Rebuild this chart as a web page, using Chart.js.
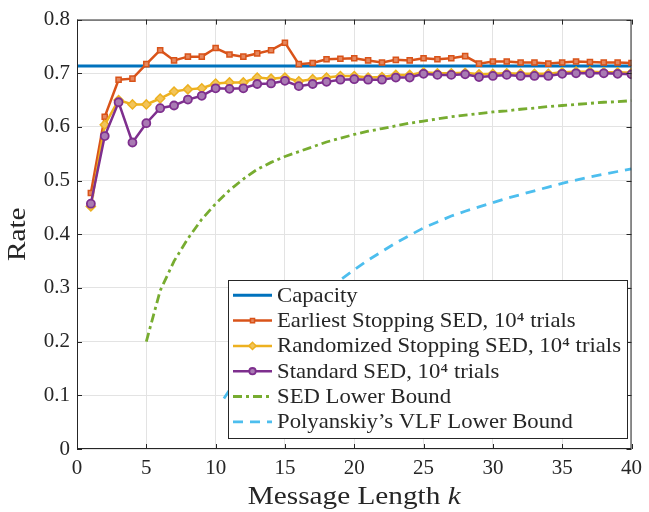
<!DOCTYPE html>
<html>
<head>
<meta charset="utf-8">
<script src="https://cdn.jsdelivr.net/npm/chart.js@4.4.1/dist/chart.umd.min.js"></script>
<style>
    html, body { margin: 0; padding: 0; background: #fff; }
</style>
</head>
<body>
<canvas id="rateChart" width="649" height="512"></canvas>
<script>
// Message lengths k = 1..40
const kValues = [1, 2, 3, 4, 5, 6, 7, 8, 9, 10, 11, 12, 13, 14, 15, 16, 17, 18, 19, 20,
                 21, 22, 23, 24, 25, 26, 27, 28, 29, 30, 31, 32, 33, 34, 35, 36, 37, 38, 39, 40];

const capacityX = [0, 40];
const capacityY = [0.7136, 0.7136];

const earliestStopping = [0.477, 0.619, 0.688, 0.690, 0.717, 0.743, 0.724, 0.731, 0.731, 0.747,
                          0.735, 0.731, 0.737, 0.743, 0.757, 0.717, 0.719, 0.726, 0.727, 0.728,
                          0.724, 0.720, 0.725, 0.724, 0.728, 0.726, 0.728, 0.732, 0.718, 0.722,
                          0.722, 0.720, 0.720, 0.718, 0.720, 0.722, 0.721, 0.720, 0.720, 0.719];

const randomizedStopping = [0.452, 0.604, 0.650, 0.642, 0.642, 0.653, 0.666, 0.670, 0.672, 0.681,
                            0.683, 0.683, 0.692, 0.690, 0.692, 0.685, 0.689, 0.692, 0.695, 0.695,
                            0.692, 0.693, 0.697, 0.697, 0.702, 0.700, 0.700, 0.701, 0.698, 0.699,
                            0.700, 0.699, 0.699, 0.699, 0.702, 0.703, 0.703, 0.702, 0.702, 0.701];

const standardSED = [0.457, 0.583, 0.646, 0.571, 0.607, 0.635, 0.640, 0.651, 0.658, 0.672,
                     0.671, 0.672, 0.680, 0.681, 0.686, 0.676, 0.680, 0.684, 0.688, 0.689,
                     0.688, 0.688, 0.692, 0.692, 0.699, 0.697, 0.697, 0.698, 0.693, 0.695,
                     0.697, 0.695, 0.695, 0.695, 0.699, 0.700, 0.700, 0.700, 0.699, 0.698];

// SED lower bound, k = 5..40
const sedBoundK = [5, 6, 7, 8, 9, 10, 11, 12, 13, 14, 15, 16, 17, 18, 19, 20, 21, 22,
                   23, 24, 25, 26, 27, 28, 29, 30, 31, 32, 33, 34, 35, 36, 37, 38, 39, 40];
const sedBound = [0.200, 0.295, 0.350, 0.392, 0.428, 0.457, 0.482, 0.503, 0.521, 0.534,
                  0.545, 0.554, 0.563, 0.572, 0.579, 0.586, 0.592, 0.597, 0.602, 0.607,
                  0.611, 0.615, 0.619, 0.622, 0.625, 0.628, 0.630, 0.633, 0.635, 0.638,
                  0.640, 0.642, 0.644, 0.646, 0.647, 0.649];

// Polyanskiy's VLF lower bound
const vlfBoundK = [10.6, 11, 12, 13, 14, 15, 16, 17, 18, 19, 20, 21, 22, 23, 24, 25,
                   26, 27, 28, 29, 30, 31, 32, 33, 34, 35, 36, 37, 38, 39, 40];
const vlfBound = [0.094, 0.110, 0.150, 0.180, 0.210, 0.235, 0.258, 0.279, 0.298, 0.315,
                  0.334, 0.352, 0.368, 0.384, 0.398, 0.412, 0.423, 0.434, 0.443, 0.451,
                  0.459, 0.467, 0.474, 0.481, 0.488, 0.495, 0.501, 0.507, 0.512, 0.517, 0.522];

const seriesLabels = ['Capacity',
                      'Earliest Stopping SED, 10⁴ trials',
                      'Randomized Stopping SED, 10⁴ trials',
                      'Standard SED, 10⁴ trials',
                      'SED Lower Bound',
                      'Polyanskiy’s VLF Lower Bound'];

const xTicks = [0, 5, 10, 15, 20, 25, 30, 35, 40];
const yTicks = [0, 0.1, 0.2, 0.3, 0.4, 0.5, 0.6, 0.7, 0.8];

function toPoints(xs, ys) {
    return xs.map((x, i) => ({ x: x, y: ys[i] }));
}

const axisColor = '#262626';
const serif = '"Liberation Serif", "DejaVu Serif", serif';

// Computer Modern is wider than Times, so widen the text a little
function wideText(ctx, text, x, y, stretch) {
    ctx.save();
    ctx.translate(x, y);
    ctx.scale(stretch, 1);
    ctx.fillText(text, 0, 0);
    ctx.restore();
}

// Box, inward ticks, axis titles and legend drawn in MATLAB style
const matlabFrame = {
    id: 'matlabFrame',
    afterDatasetsDraw(chart) {
        const ctx = chart.ctx;
        const a = chart.chartArea;
        const xs = chart.scales.x, ys = chart.scales.y;
        ctx.save();

        // frame
        ctx.strokeStyle = axisColor;
        ctx.lineWidth = 1;
        ctx.strokeRect(a.left + 0.5, a.top + 0.5, a.right - a.left - 1, a.bottom - a.top - 1);

        // inward ticks
        const tl = 5;
        ctx.beginPath();
        xTicks.forEach(t => {
            const px = Math.round(xs.getPixelForValue(t)) + 0.5;
            ctx.moveTo(px, a.bottom); ctx.lineTo(px, a.bottom - tl);
            ctx.moveTo(px, a.top); ctx.lineTo(px, a.top + tl);
        });
        yTicks.forEach(t => {
            const py = Math.round(ys.getPixelForValue(t)) + 0.5;
            ctx.moveTo(a.left, py); ctx.lineTo(a.left + tl, py);
            ctx.moveTo(a.right, py); ctx.lineTo(a.right - tl, py);
        });
        ctx.stroke();

        // x title with italic k
        const titleStretch = 1.17;
        ctx.fillStyle = axisColor;
        ctx.textBaseline = 'middle';
        ctx.textAlign = 'left';
        const part1 = 'Message Length ';
        ctx.font = '25px ' + serif;
        const w1 = ctx.measureText(part1).width * titleStretch;
        ctx.font = 'italic 25px ' + serif;
        const w2 = ctx.measureText('k').width * titleStretch;
        const sx = (a.left + a.right) / 2 - (w1 + w2) / 2;
        ctx.font = '25px ' + serif;
        wideText(ctx, part1, sx, 497, titleStretch);
        ctx.font = 'italic 25px ' + serif;
        wideText(ctx, 'k', sx + w1, 497, titleStretch);

        // y title
        ctx.save();
        ctx.translate(18, (a.top + a.bottom) / 2);
        ctx.rotate(-Math.PI / 2);
        ctx.textAlign = 'center';
        ctx.font = '25px ' + serif;
        ctx.scale(titleStretch, 1);
        ctx.fillText('Rate', 0, 0);
        ctx.restore();

        // legend
        const box = { left: 228, top: 280, right: 627, bottom: 438 };
        ctx.fillStyle = '#fff';
        ctx.fillRect(box.left, box.top, box.right - box.left, box.bottom - box.top);
        ctx.strokeStyle = axisColor;
        ctx.strokeRect(box.left + 0.5, box.top + 0.5, box.right - box.left, box.bottom - box.top);

        const fontSize = 21;
        ctx.font = fontSize + 'px ' + serif;
        let longest = 0;
        seriesLabels.forEach(l => { longest = Math.max(longest, ctx.measureText(l).width); });
        const stretch = 344 / longest;
        const rowH = 25.3;

        chart.data.datasets.forEach((ds, i) => {
            const y = 295.3 + i * rowH;
            const x0 = 233, x1 = 272;
            ctx.save();
            ctx.strokeStyle = ds.borderColor;
            ctx.lineWidth = ds.borderWidth;
            ctx.setLineDash(ds.borderDash || []);
            ctx.beginPath();
            ctx.moveTo(x0, y); ctx.lineTo(x1, y);
            ctx.stroke();
            ctx.setLineDash([]);
            if (ds.pointRadius > 0) {
                ctx.fillStyle = ds.pointBackgroundColor;
                ctx.strokeStyle = ds.pointBorderColor;
                ctx.lineWidth = ds.pointBorderWidth;
                Chart.helpers.drawPoint(ctx, {
                    pointStyle: ds.pointStyle,
                    radius: ds.pointRadius * 0.8,
                    borderWidth: ds.pointBorderWidth,
                    rotation: 0
                }, (x0 + x1) / 2, y);
            }
            ctx.restore();
            ctx.fillStyle = axisColor;
            ctx.font = fontSize + 'px ' + serif;
            ctx.textAlign = 'left';
            ctx.textBaseline = 'middle';
            wideText(ctx, seriesLabels[i], 277, y + 1, stretch);
        });

        ctx.restore();
    }
};

const ctx = document.getElementById('rateChart').getContext('2d');

new Chart(ctx, {
    type: 'line',
    data: {
        datasets: [{
            label: seriesLabels[0],
            data: toPoints(capacityX, capacityY),
            borderColor: '#0072BD',
            borderWidth: 3,
            pointRadius: 0,
            order: 6
        }, {
            label: seriesLabels[1],
            data: toPoints(kValues, earliestStopping),
            borderColor: '#D95319',
            borderWidth: 2.5,
            pointStyle: 'rect',
            pointRadius: 3.6,
            pointBorderWidth: 1.5,
            pointBorderColor: '#D95319',
            pointBackgroundColor: '#E5875E',
            order: 5
        }, {
            label: seriesLabels[2],
            data: toPoints(kValues, randomizedStopping),
            borderColor: '#EDB120',
            borderWidth: 2.5,
            pointStyle: 'rectRot',
            pointRadius: 4.5,
            pointBorderWidth: 1.5,
            pointBorderColor: '#EDB120',
            pointBackgroundColor: '#F2C45A',
            order: 4
        }, {
            label: seriesLabels[3],
            data: toPoints(kValues, standardSED),
            borderColor: '#7E2F8E',
            borderWidth: 2.5,
            pointStyle: 'circle',
            pointRadius: 4,
            pointBorderWidth: 1.8,
            pointBorderColor: '#7E2F8E',
            pointBackgroundColor: '#A97AB3',
            order: 3
        }, {
            label: seriesLabels[4],
            data: toPoints(sedBoundK, sedBound),
            borderColor: '#77AC30',
            borderWidth: 2.8,
            borderDash: [9, 4, 3, 4],
            pointRadius: 0,
            order: 2
        }, {
            label: seriesLabels[5],
            data: toPoints(vlfBoundK, vlfBound),
            borderColor: '#4DBEEE',
            borderWidth: 2.8,
            borderDash: [10, 7],
            pointRadius: 0,
            order: 1
        }]
    },
    options: {
        responsive: false,
        animation: false,
        devicePixelRatio: 1,
        layout: { padding: { top: 13, right: 10, left: 0, bottom: 0 } },
        plugins: {
            legend: { display: false },
            tooltip: { enabled: false },
            title: { display: false }
        },
        elements: { line: { tension: 0 } },
        scales: {
            x: {
                type: 'linear',
                min: 0,
                max: 40,
                afterFit: s => { s.height = 63; },
                afterBuildTicks: s => { s.ticks = xTicks.map(v => ({ value: v })); },
                ticks: {
                    color: axisColor,
                    padding: 7,
                    maxRotation: 0,
                    font: { family: serif, size: 21 }
                },
                grid: { color: '#e3e3e3', lineWidth: 1, drawTicks: false },
                border: { display: false }
            },
            y: {
                type: 'linear',
                min: 0,
                max: 0.8,
                afterFit: s => { s.width = 77; },
                afterBuildTicks: s => { s.ticks = yTicks.map(v => ({ value: v })); },
                ticks: {
                    color: axisColor,
                    padding: 7,
                    font: { family: serif, size: 21 },
                    callback: v => v === 0 ? '0' : v.toFixed(1)
                },
                grid: { color: '#e3e3e3', lineWidth: 1, drawTicks: false },
                border: { display: false }
            }
        }
    },
    plugins: [matlabFrame]
});
</script>
</body>
</html>
